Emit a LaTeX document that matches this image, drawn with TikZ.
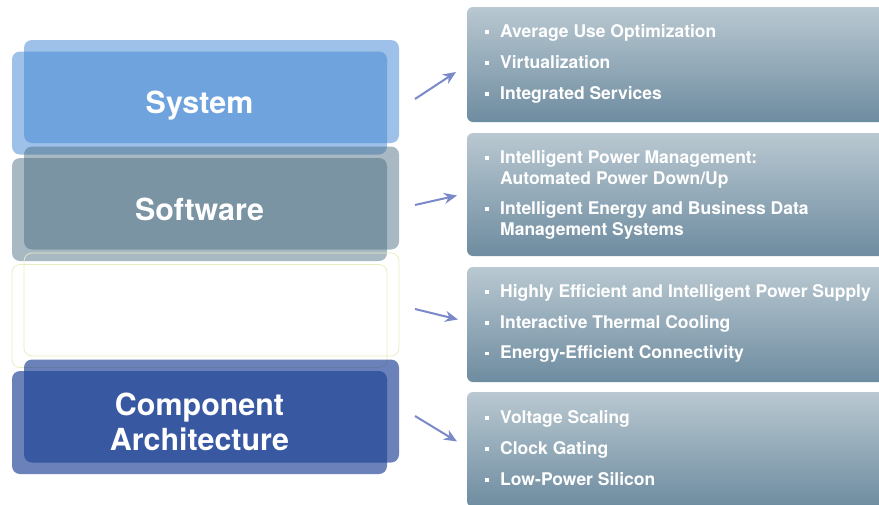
\documentclass[tikz,border=0pt]{standalone}
\usepackage{fontspec}
\setmainfont{TeX Gyre Heros}
\usetikzlibrary{arrows.meta}
\definecolor{sysC}{RGB}{70,138,212}
\definecolor{softC}{RGB}{74,109,130}
\definecolor{compC}{RGB}{33,68,151}
\definecolor{emptyC}{RGB}{230,237,190}
\definecolor{rtop}{RGB}{185,200,209}
\definecolor{rbot}{RGB}{110,140,160}
\definecolor{arrC}{RGB}{122,138,200}
\tikzset{
  lbox/.style={rounded corners=8pt, minimum width=375pt, minimum height=103pt, inner sep=0pt, draw=none},
  ltext/.style={text=white, font=\fontsize{30.4}{35}\selectfont\bfseries, align=center, text height=21.5pt, text depth=0pt},
  rbox/.style={rounded corners=6pt, minimum width=433pt, inner sep=0pt, draw=none, top color=rtop, bottom color=rbot},
  item/.style={anchor=base west, text=white, font=\fontsize{17.5}{21}\selectfont\bfseries, inner sep=0pt},
  bul/.style={fill=white, minimum size=3.6pt, inner sep=0pt, draw=none},
  arr/.style={draw=arrC, line width=2pt, -{Stealth[length=13pt,width=11pt]}}
}
\newcommand{\itm}[3]{%
  \node[item] (#1) at (500,#2) {#3};
  \node[bul] (#1b) at (487,#2-5) {};}
\begin{document}
\begin{tikzpicture}[x=1pt,y=-1pt]
\useasboundingbox (0,0) rectangle (879,504);
\clip (0,0) rectangle (879,504);
\fill[white] (0,0) rectangle (879,504);
% left stack
\node[lbox, fill=sysC, fill opacity=0.53] (sysA) at (211.5,91.5) {};
\node[lbox, fill=sysC, fill opacity=0.53, ltext, text opacity=1] (sysB) at (199.5,103) {System};
\node[lbox, fill=softC, fill opacity=0.48] (softA) at (211.5,198) {};
\node[lbox, fill=softC, fill opacity=0.48, ltext, text opacity=1] (softB) at (199.5,209.5) {Software};
\node[lbox, draw=emptyC, line width=0.7pt] (empA) at (211.5,304.5) {};
\node[lbox, draw=emptyC, line width=0.7pt] (empB) at (199.5,316) {};
\node[lbox, fill=compC, fill opacity=0.67] (compA) at (211.5,411) {};
\node[lbox, fill=compC, fill opacity=0.67, ltext, text opacity=1, text height=56.5pt, text depth=0pt] (compB) at (199.5,422.5) {Component\\Architecture};
% right boxes
\node[rbox, minimum height=115pt] (r1) at (683.5,64.5) {};
\node[rbox, minimum height=123pt] (r2) at (683.5,194.5) {};
\node[rbox, minimum height=115pt] (r3) at (683.5,324.5) {};
\node[rbox, minimum height=115pt] (r4) at (683.5,449.5) {};
% items
\itm{a1}{37}{Average Use Optimization}
\itm{a2}{68}{Virtualization}
\itm{a3}{99}{Integrated Services}
\itm{b1}{163}{Intelligent Power Management:}
\node[item] (b1c) at (500,184) {Automated Power Down/Up};
\itm{b2}{214}{Intelligent Energy and Business Data}
\node[item] (b2c) at (500,235) {Management Systems};
\itm{c1}{297}{Highly Efficient and Intelligent Power Supply}
\itm{c2}{328}{Interactive Thermal Cooling}
\itm{c3}{358.5}{Energy-Efficient Connectivity}
\itm{d1}{423}{Voltage Scaling}
\itm{d2}{454}{Clock Gating}
\itm{d3}{485}{Low-Power Silicon}
% arrows
\coordinate (s1) at (415,99);  \coordinate (e1) at (456,72);
\coordinate (s2) at (415,205); \coordinate (e2) at (457,195.5);
\coordinate (s3) at (415,309); \coordinate (e3) at (458,319.5);
\coordinate (s4) at (415,416); \coordinate (e4) at (457,441.5);
\draw[arr] (s1) -- (e1);
\draw[arr] (s2) -- (e2);
\draw[arr] (s3) -- (e3);
\draw[arr] (s4) -- (e4);
\end{tikzpicture}
\end{document}
